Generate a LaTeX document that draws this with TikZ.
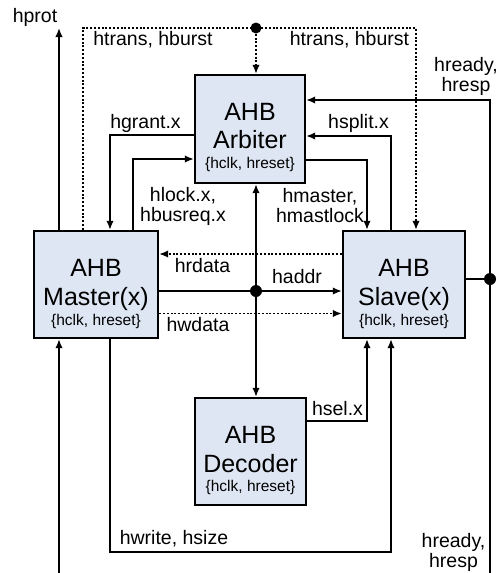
\documentclass[tikz,border=0pt]{standalone}
\usepackage{fontspec}
\setmainfont{Liberation Sans}
\usetikzlibrary{arrows.meta}
\definecolor{boxfill}{RGB}{222,230,243}
\begin{document}
\begin{tikzpicture}[x=1pt,y=-1pt,
  blk/.style={draw, line width=2.4pt, fill=boxfill, inner sep=0pt},
  ttl/.style={anchor=base, inner sep=0pt, font=\fontsize{25}{25}\selectfont},
  sml/.style={anchor=base, inner sep=0pt, font=\fontsize{15.5}{15.5}\selectfont},
  lbl/.style={anchor=base, inner sep=0pt, font=\fontsize{19.5}{19.5}\selectfont},
  sig/.style={line width=1.6pt},
  dotl/.style={line width=1.6pt, dash pattern=on 2pt off 1.8pt},
  tip/.style={-{Latex[length=9pt,width=7.5pt]}},
  jdot/.style={circle, fill, inner sep=0pt, minimum size=#1},
  jdot/.default=12pt]
\useasboundingbox (0,0) rectangle (497,573);

% boxes
\node[blk, minimum width=110pt, minimum height=108pt] (arb) at (250,129) {};
\node[ttl] (arbA) at (250,120.5) {AHB};
\node[ttl] (arbB) at (250,148) {Arbiter};
\node[sml] (arbC) at (250,168) {\{hclk, hreset\}};

\node[blk, minimum width=124pt, minimum height=107pt] (mst) at (96,284.5) {};
\node[ttl] (mstA) at (96,276) {AHB};
\node[ttl] (mstB) at (96,305.5) {Master(x)};
\node[sml] (mstC) at (96,325.5) {\{hclk, hreset\}};

\node[blk, minimum width=122pt, minimum height=107pt] (slv) at (404,284.5) {};
\node[ttl] (slvA) at (404,276) {AHB};
\node[ttl] (slvB) at (404,305.5) {Slave(x)};
\node[sml] (slvC) at (404,325.5) {\{hclk, hreset\}};

\node[blk, minimum width=111pt, minimum height=107pt] (dec) at (250.5,451.5) {};
\node[ttl] (decA) at (250.5,443) {AHB};
\node[ttl] (decB) at (250.5,472.5) {Decoder};
\node[sml] (decC) at (250.5,491) {\{hclk, hreset\}};

% columns and rows
\coordinate (xa) at (59,0);
\coordinate (xb) at (83,0);
\coordinate (xc) at (110,0);
\coordinate (xd) at (133,0);
\coordinate (xm) at (256,0);
\coordinate (xe) at (367,0);
\coordinate (xf) at (391,0);
\coordinate (xg) at (416,0);
\coordinate (xh) at (490,0);
\coordinate (ytop) at (0,28);
\coordinate (yrd) at (0,100);
\coordinate (ygr) at (0,135);
\coordinate (ysp) at (0,136);
\coordinate (yhl) at (0,159);
\coordinate (yhm) at (0,160);
\coordinate (yrdata) at (0,254);
\coordinate (yslr) at (0,279);
\coordinate (yaddr) at (0,291);
\coordinate (ywdata) at (0,313.5);
\coordinate (ysel) at (0,421);
\coordinate (ywr) at (0,552);
\coordinate (ybot) at (0,573);

% junction dots
\node[jdot=11pt] (tdot) at (xm |- ytop) {};
\node[jdot] (cdot) at (xm |- yaddr) {};
\node[jdot] (rdot) at (xh |- yslr) {};

% hprot
\draw[sig,tip] (xa |- mst.north) -- (xa |- ytop);
% from bottom into master
\draw[sig,tip] (xa |- ybot) -- (xa |- mst.south);

% htrans, hburst (dotted)
\draw[dotl,tip] (xb |- mst.north) -- (xb |- ytop) -- (xg |- ytop) -- (xg |- slv.north);
\draw[dotl,tip] (tdot) -- (tdot |- arb.north);

% hgrant.x
\draw[sig,tip] (arb.west |- ygr) -| (xc |- mst.north);
% hlock.x, hbusreq.x
\draw[sig,tip] (xd |- mst.north) |- (arb.west |- yhl);

% hready, hresp (right)
\draw[sig] (slv.east |- rdot) -- (rdot);
\draw[sig,tip] (xh |- ybot) |- (arb.east |- yrd);
% hsplit.x
\draw[sig,tip] (xf |- slv.north) |- (arb.east |- ysp);
% hmaster, hmastlock
\draw[sig,tip] (arb.east |- yhm) -| (xe |- slv.north);

% data/address buses
\draw[dotl,tip] (slv.west |- yrdata) -- (mst.east |- yrdata);
\draw[sig,tip] (mst.east |- yaddr) -- (slv.west |- yaddr);
\draw[dotl,tip] (mst.east |- ywdata) -- (slv.west |- ywdata);
\draw[sig,tip] (cdot) -- (cdot |- arb.south);
\draw[sig,tip] (cdot) -- (cdot |- dec.north);

% hsel.x
\draw[sig,tip] (dec.east |- ysel) -| (xe |- slv.south);
% hwrite, hsize
\draw[sig,tip] (xc |- mst.south) |- (xf |- ywr) -- (xf |- slv.south);

% labels
\node[lbl] (lprot) at (35,22) {hprot};
\node[lbl] (ltr1) at (153,45) {htrans, hburst};
\node[lbl] (ltr2) at (349.5,45) {htrans, hburst};
\node[lbl] (lrdy1) at (466,71) {hready,};
\node[lbl] (lrsp1) at (466,91) {hresp};
\node[lbl] (lgr) at (145.5,128) {hgrant.x};
\node[lbl] (lsp) at (358.5,128) {hsplit.x};
\node[lbl] (llk) at (183,201.5) {hlock.x,};
\node[lbl] (lbr) at (183,221.5) {hbusreq.x};
\node[lbl] (lms) at (320,202) {hmaster,};
\node[lbl] (lml) at (320,222) {hmastlock};
\node[lbl] (lrd) at (202.5,272) {hrdata};
\node[lbl] (lad) at (297,283) {haddr};
\node[lbl] (lwd) at (198,331) {hwdata};
\node[lbl] (lsel) at (337.5,415) {hsel.x};
\node[lbl] (lwr) at (174,544) {hwrite, hsize};
\node[lbl] (lrdy2) at (453.5,547) {hready,};
\node[lbl] (lrsp2) at (453.5,567) {hresp};
\end{tikzpicture}
\end{document}
